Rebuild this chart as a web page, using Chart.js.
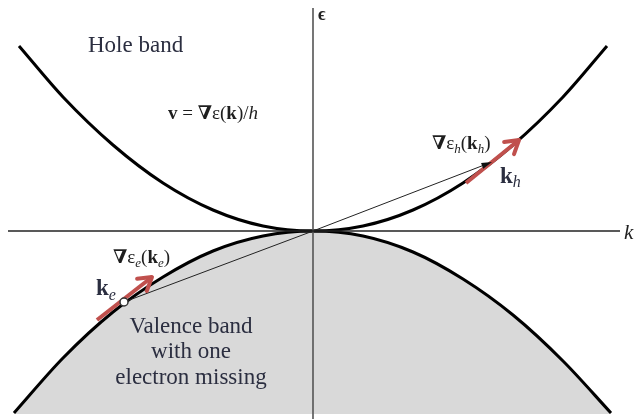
<!DOCTYPE html>
<html>
<head>
<meta charset="utf-8">
<script src="https://cdn.jsdelivr.net/npm/chart.js@4.4.1/dist/chart.umd.min.js"></script>
<style>
  body { margin: 0; background: #fff; }
  #box { width: 635px; height: 419px; }
</style>
</head>
<body>
<div id="box"><canvas id="bands" width="635" height="419"></canvas></div>
<script>
// --- values (k and energy in the same arbitrary units) ---
let hole_k   = [-2.94, -2.5, -2.0, -1.5, -1.0, -0.5, 0, 0.5, 1.0, 1.5, 2.0, 2.5, 2.94];
let hole_e   = [ 1.85, 1.34, 0.86, 0.48, 0.21, 0.05, 0, 0.05, 0.21, 0.48, 0.86, 1.34, 1.85];

let val_k    = [-2.99, -2.5, -2.0, -1.5, -1.0, -0.5, 0, 0.5, 1.0, 1.5, 2.0, 2.5, 2.98];
let val_e    = [-1.82, -1.27, -0.81, -0.46, -0.2, -0.05, 0, -0.05, -0.21, -0.48, -0.84, -1.3, -1.82];

let band_floor = -1.83;

let k_axis   = [-3.05, 3.07];
let e_axis   = [2.23, -1.88];

let ke_point = [-1.89, -0.71];
let kh_point = [1.79, 0.69];

let arrow_e  = [[-2.16, -0.89], [-1.61, -0.46]];
let arrow_h  = [[1.53, 0.48], [2.06, 0.91]];

// -------------------------------------

function pts(xs, ys) {
  return xs.map((x, i) => ({ x: x, y: ys[i] }));
}

const SERIF = '"Liberation Serif", "DejaVu Serif", serif';
const RED = "#c0504d";

function line_ds(data, color, width) {
  return {
    data: data,
    borderColor: color,
    borderWidth: width,
    pointRadius: 0,
    fill: false,
    tension: 0
  };
}

// draw pieces of text one after the other: [text, font, dy]
function rich(ctx, x, y, parts, color) {
  ctx.fillStyle = color || "#1e1e1e";
  ctx.textBaseline = "alphabetic";
  ctx.textAlign = "left";
  parts.forEach((p) => {
    ctx.font = p[1];
    ctx.fillText(p[0], x, y + (p[2] || 0));
    x += ctx.measureText(p[0]).width + (p[3] || 0);
  });
}

function arrow_head(ctx, x0, y0, x1, y1, len, spread, filled, color, width) {
  let a = Math.atan2(y1 - y0, x1 - x0);
  ctx.save();
  ctx.strokeStyle = color;
  ctx.fillStyle = color;
  ctx.lineWidth = width;
  ctx.lineCap = "round";
  ctx.lineJoin = "round";
  ctx.beginPath();
  ctx.moveTo(x1 - len * Math.cos(a - spread), y1 - len * Math.sin(a - spread));
  ctx.lineTo(x1, y1);
  ctx.lineTo(x1 - len * Math.cos(a + spread), y1 - len * Math.sin(a + spread));
  if (filled) { ctx.closePath(); ctx.fill(); } else ctx.stroke();
  ctx.restore();
}

const extras = {
  id: "extras",
  afterDatasetsDraw(chart) {
    let ctx = chart.ctx;
    let sx = chart.scales.x, sy = chart.scales.y;
    let X = (v) => sx.getPixelForValue(v);
    let Y = (v) => sy.getPixelForValue(v);

    // thin arrow head at k_h
    arrow_head(ctx, X(0), Y(0), X(kh_point[0]), Y(kh_point[1]), 11, 0.28, true, "#111", 1);

    // red gradient arrows
    [arrow_e, arrow_h].forEach((a) => {
      arrow_head(ctx, X(a[0][0]), Y(a[0][1]), X(a[1][0]), Y(a[1][1]), 15, 0.55, false, RED, 4);
    });

    let b = "bold 19px " + SERIF, n = "19px " + SERIF, it = "italic 19px " + SERIF;
    let sub = "italic 13px " + SERIF;

    rich(ctx, X(-2.25), Y(1.79), [["Hole band", "23px " + SERIF]], "#2b2e40");

    rich(ctx, X(-1.45), Y(1.12), [
      ["v", b], [" = ", n], ["\u2207", b], ["\u03b5(", n], ["k", b], [")/", n], ["h", it]
    ]);

    rich(ctx, X(1.19), Y(0.82), [
      ["\u2207", b], ["\u03b5", n], ["h", sub, 4], ["(", n], ["k", b], ["h", sub, 4], [")", n]
    ]);
    rich(ctx, X(1.87), Y(0.48), [["k", "bold 23px " + SERIF], ["h", "italic 16px " + SERIF, 4]], "#2b2e40");

    rich(ctx, X(-2.0), Y(-0.32), [
      ["\u2207", b], ["\u03b5", n], ["e", sub, 4], ["(", n], ["k", b], ["e", sub, 4], [")", n]
    ]);
    rich(ctx, X(-2.17), Y(-0.64), [["k", "bold 23px " + SERIF], ["e", "italic 16px " + SERIF, 5]], "#2b2e40");

    ctx.font = "23px " + SERIF;
    ctx.fillStyle = "#2b2e40";
    ctx.textAlign = "center";
    ctx.fillText("Valence band", X(-1.22), Y(-1.02));
    ctx.fillText("with one", X(-1.22), Y(-1.27));
    ctx.fillText("electron missing", X(-1.22), Y(-1.53));

    ctx.textAlign = "left";
    ctx.font = "bold 18px " + SERIF;
    ctx.fillStyle = "#222";
    ctx.fillText("\u03f5", X(0.05), Y(2.11));
    ctx.font = "italic 21px " + SERIF;
    ctx.fillText("k", X(3.11), Y(-0.08));
  }
};

new Chart("bands", {
  type: "line",
  data: {
    datasets: [
      // filled valence band
      {
        data: pts(val_k, val_e),
        borderColor: "#000",
        borderWidth: 3,
        pointRadius: 0,
        cubicInterpolationMode: "monotone",
        backgroundColor: "#d9d9d9",
        fill: { value: band_floor },
        order: 3
      },
      {
        data: pts(hole_k, hole_e),
        borderColor: "#000",
        borderWidth: 3,
        pointRadius: 0,
        cubicInterpolationMode: "monotone",
        fill: false,
        order: 2
      },
      Object.assign(line_ds(pts(k_axis, [0, 0]), "#222", 1.3), { order: 1 }),
      Object.assign(line_ds(pts([0, 0], e_axis), "#555", 1.6), { order: 1 }),
      Object.assign(line_ds([{ x: 0, y: 0 }, { x: ke_point[0], y: ke_point[1] }], "#222", 1), { order: 1 }),
      Object.assign(line_ds([{ x: 0, y: 0 }, { x: kh_point[0], y: kh_point[1] }], "#222", 1), { order: 1 }),
      Object.assign(line_ds(pts([arrow_e[0][0], arrow_e[1][0]], [arrow_e[0][1], arrow_e[1][1]]), RED, 4), { order: 0 }),
      Object.assign(line_ds(pts([arrow_h[0][0], arrow_h[1][0]], [arrow_h[0][1], arrow_h[1][1]]), RED, 4), { order: 0 }),
      // the missing electron
      {
        data: [{ x: ke_point[0], y: ke_point[1] }],
        showLine: false,
        pointRadius: 4,
        pointBackgroundColor: "#fff",
        pointBorderColor: "#333",
        pointBorderWidth: 1.5,
        order: -1
      }
    ]
  },
  options: {
    responsive: false,
    animation: false,
    layout: { padding: 0, autoPadding: false },
    plugins: { legend: { display: false }, tooltip: { enabled: false } },
    scales: {
      x: { type: "linear", min: -3.13, max: 3.22, display: false },
      y: { type: "linear", min: -1.88, max: 2.31, display: false }
    }
  },
  plugins: [extras]
});
</script>
</body>
</html>
